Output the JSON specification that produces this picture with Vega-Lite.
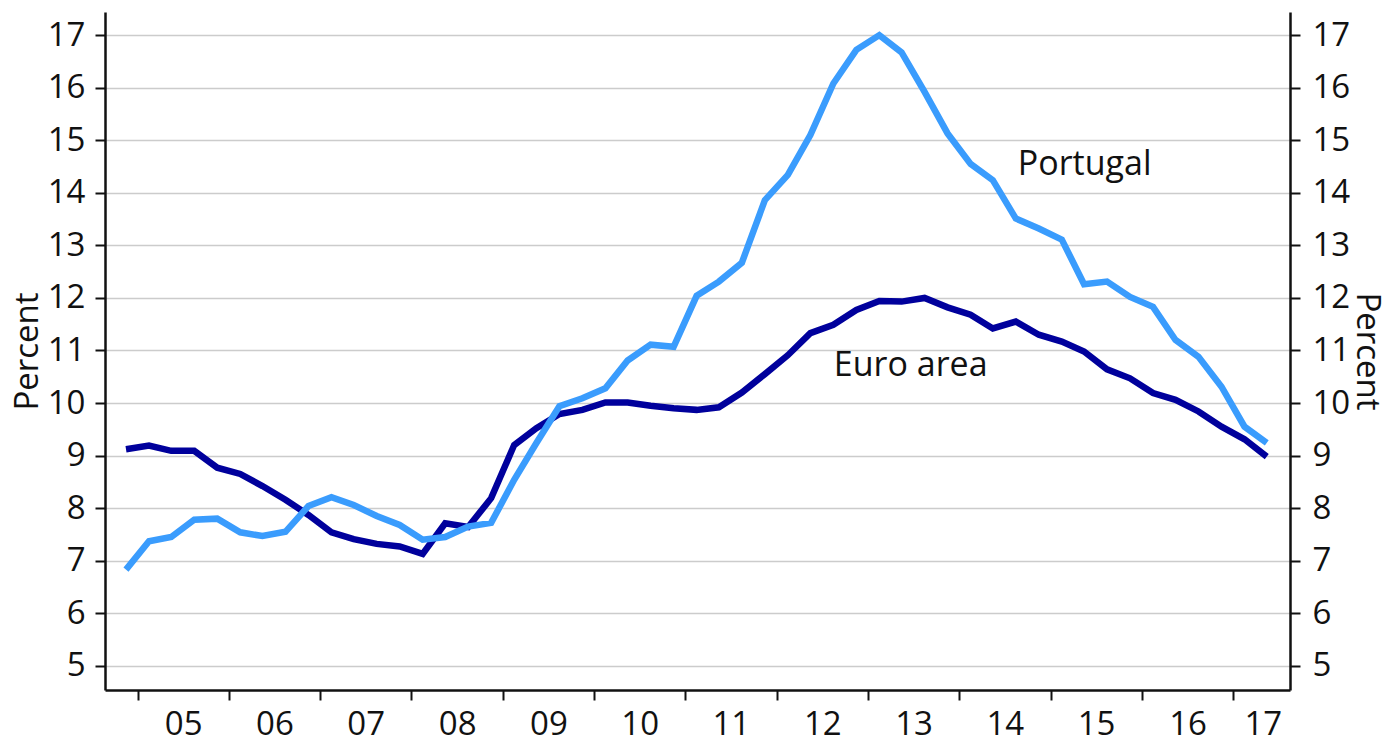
{
  "$schema": "https://vega.github.io/schema/vega-lite/v6.json",
  "width": 1185,
  "height": 678,
  "autosize": {"type": "none"},
  "padding": {"left": 105, "top": 12, "right": 97, "bottom": 54},
  "background": "white",
  "config": {
    "view": {"stroke": null},
    "font": "Open Sans",
    "axis": {"labelFont": "Open Sans", "titleFont": "Open Sans", "labelColor": "#111", "titleColor": "#111"}
  },
  "datasets": {
    "rates": [
      {"date": "2004-11-15", "Portugal": 6.83, "Euro area": 9.12},
      {"date": "2005-02-15", "Portugal": 7.37, "Euro area": 9.19},
      {"date": "2005-05-15", "Portugal": 7.45, "Euro area": 9.09},
      {"date": "2005-08-15", "Portugal": 7.78, "Euro area": 9.09},
      {"date": "2005-11-15", "Portugal": 7.80, "Euro area": 8.77},
      {"date": "2006-02-15", "Portugal": 7.54, "Euro area": 8.65},
      {"date": "2006-05-15", "Portugal": 7.47, "Euro area": 8.42},
      {"date": "2006-08-15", "Portugal": 7.55, "Euro area": 8.16},
      {"date": "2006-11-15", "Portugal": 8.04, "Euro area": 7.87},
      {"date": "2007-02-15", "Portugal": 8.21, "Euro area": 7.54},
      {"date": "2007-05-15", "Portugal": 8.06, "Euro area": 7.41},
      {"date": "2007-08-15", "Portugal": 7.85, "Euro area": 7.32},
      {"date": "2007-11-15", "Portugal": 7.68, "Euro area": 7.27},
      {"date": "2008-02-15", "Portugal": 7.40, "Euro area": 7.13},
      {"date": "2008-05-15", "Portugal": 7.45, "Euro area": 7.71},
      {"date": "2008-08-15", "Portugal": 7.65, "Euro area": 7.64},
      {"date": "2008-11-15", "Portugal": 7.72, "Euro area": 8.19},
      {"date": "2009-02-15", "Portugal": 8.54, "Euro area": 9.20},
      {"date": "2009-05-15", "Portugal": 9.24, "Euro area": 9.52},
      {"date": "2009-08-15", "Portugal": 9.94, "Euro area": 9.79},
      {"date": "2009-11-15", "Portugal": 10.09, "Euro area": 9.87},
      {"date": "2010-02-15", "Portugal": 10.28, "Euro area": 10.01},
      {"date": "2010-05-15", "Portugal": 10.81, "Euro area": 10.01},
      {"date": "2010-08-15", "Portugal": 11.11, "Euro area": 9.95},
      {"date": "2010-11-15", "Portugal": 11.07, "Euro area": 9.90},
      {"date": "2011-02-15", "Portugal": 12.04, "Euro area": 9.87},
      {"date": "2011-05-15", "Portugal": 12.31, "Euro area": 9.92},
      {"date": "2011-08-15", "Portugal": 12.67, "Euro area": 10.20},
      {"date": "2011-11-15", "Portugal": 13.86, "Euro area": 10.55},
      {"date": "2012-02-15", "Portugal": 14.34, "Euro area": 10.91},
      {"date": "2012-05-15", "Portugal": 15.10, "Euro area": 11.33},
      {"date": "2012-08-15", "Portugal": 16.08, "Euro area": 11.49},
      {"date": "2012-11-15", "Portugal": 16.72, "Euro area": 11.77},
      {"date": "2013-02-15", "Portugal": 17.00, "Euro area": 11.94},
      {"date": "2013-05-15", "Portugal": 16.67, "Euro area": 11.93},
      {"date": "2013-08-15", "Portugal": 15.92, "Euro area": 12.00},
      {"date": "2013-11-15", "Portugal": 15.13, "Euro area": 11.82},
      {"date": "2014-02-15", "Portugal": 14.55, "Euro area": 11.68},
      {"date": "2014-05-15", "Portugal": 14.24, "Euro area": 11.42},
      {"date": "2014-08-15", "Portugal": 13.51, "Euro area": 11.55},
      {"date": "2014-11-15", "Portugal": 13.32, "Euro area": 11.30},
      {"date": "2015-02-15", "Portugal": 13.11, "Euro area": 11.17},
      {"date": "2015-05-15", "Portugal": 12.26, "Euro area": 10.98},
      {"date": "2015-08-15", "Portugal": 12.31, "Euro area": 10.64},
      {"date": "2015-11-15", "Portugal": 12.02, "Euro area": 10.47},
      {"date": "2016-02-15", "Portugal": 11.83, "Euro area": 10.19},
      {"date": "2016-05-15", "Portugal": 11.20, "Euro area": 10.06},
      {"date": "2016-08-15", "Portugal": 10.88, "Euro area": 9.84},
      {"date": "2016-11-15", "Portugal": 10.31, "Euro area": 9.55},
      {"date": "2017-02-15", "Portugal": 9.55, "Euro area": 9.31},
      {"date": "2017-05-15", "Portugal": 9.24, "Euro area": 8.98}
    ],
    "labels": [
      {"date": "2014-08-23", "value": 14.34, "text": "Portugal"},
      {"date": "2012-08-17", "value": 10.52, "text": "Euro area"}
    ]
  },
  "encoding": {
    "x": {
      "field": "date",
      "type": "temporal",
      "scale": {"domain": ["2004-08-23", "2017-08-16"]},
      "axis": {
        "title": null,
        "grid": false,
        "domainColor": "#111",
        "domainWidth": 2.5,
        "tickColor": "#111",
        "tickWidth": 2,
        "tickSize": 10,
        "labelFontSize": 33,
        "labelPadding": 8,
        "labelOverlap": false,
        "labelFlush": false,
        "labelBound": false,
        "values": [
          {"year": 2005, "month": 1, "date": 1},
          {"year": 2006, "month": 1, "date": 1},
          {"year": 2007, "month": 1, "date": 1},
          {"year": 2008, "month": 1, "date": 1},
          {"year": 2009, "month": 1, "date": 1},
          {"year": 2010, "month": 1, "date": 1},
          {"year": 2011, "month": 1, "date": 1},
          {"year": 2012, "month": 1, "date": 1},
          {"year": 2013, "month": 1, "date": 1},
          {"year": 2014, "month": 1, "date": 1},
          {"year": 2015, "month": 1, "date": 1},
          {"year": 2016, "month": 1, "date": 1},
          {"year": 2017, "month": 1, "date": 1},
          {"year": 2005, "month": 7, "date": 2},
          {"year": 2006, "month": 7, "date": 2},
          {"year": 2007, "month": 7, "date": 2},
          {"year": 2008, "month": 7, "date": 2},
          {"year": 2009, "month": 7, "date": 2},
          {"year": 2010, "month": 7, "date": 2},
          {"year": 2011, "month": 7, "date": 2},
          {"year": 2012, "month": 7, "date": 2},
          {"year": 2013, "month": 7, "date": 2},
          {"year": 2014, "month": 7, "date": 2},
          {"year": 2015, "month": 7, "date": 2},
          {"year": 2016, "month": 7, "date": 2},
          {"year": 2017, "month": 4, "date": 29}
        ],
        "labelExpr": "month(datum.value) == 0 && date(datum.value) == 1 ? '' : timeFormat(datum.value, '%y')",
        "tickOpacity": {"condition": {"test": "month(datum.value) == 0 && date(datum.value) == 1", "value": 1}, "value": 0}
      }
    }
  },
  "layer": [
    {
      "data": {"name": "rates"},
      "transform": [{"fold": ["Euro area", "Portugal"], "as": ["series", "value"]}],
      "mark": {"type": "line", "strokeWidth": 6.5, "strokeJoin": "miter", "strokeCap": "butt"},
      "encoding": {
        "y": {
          "field": "value",
          "type": "quantitative",
          "scale": {"domain": [4.54, 17.44], "nice": false, "zero": false},
          "axis": {
            "orient": "left",
            "title": "Percent",
            "titleFontSize": 33,
            "titleFontWeight": "normal",
            "titlePadding": 3,
            "values": [5, 6, 7, 8, 9, 10, 11, 12, 13, 14, 15, 16, 17],
            "grid": true,
            "gridColor": "#cccccc",
            "gridWidth": 1.3,
            "domainColor": "#111",
            "domainWidth": 2.5,
            "tickColor": "#111",
            "tickWidth": 2,
            "tickSize": 10,
            "labelFontSize": 33,
            "labelPadding": 10
          }
        },
        "color": {
          "field": "series",
          "type": "nominal",
          "scale": {"domain": ["Euro area", "Portugal"], "range": ["#00009c", "#3a9cfd"]},
          "legend": null
        },
        "order": {"field": "date", "type": "temporal"}
      }
    },
    {
      "data": {"name": "labels"},
      "mark": {"type": "text", "align": "left", "baseline": "alphabetic", "fontSize": 34, "font": "Open Sans", "color": "#111"},
      "encoding": {
        "y": {
          "field": "value",
          "type": "quantitative",
          "scale": {"domain": [4.54, 17.44], "nice": false, "zero": false},
          "axis": {
            "orient": "right",
            "title": "Percent",
            "titleFontSize": 33,
            "titleFontWeight": "normal",
            "titlePadding": 0,
            "values": [5, 6, 7, 8, 9, 10, 11, 12, 13, 14, 15, 16, 17],
            "grid": false,
            "domainColor": "#111",
            "domainWidth": 2.5,
            "tickColor": "#111",
            "tickWidth": 2,
            "tickSize": 10,
            "labelFontSize": 33,
            "labelPadding": 12
          }
        },
        "text": {"field": "text", "type": "nominal"}
      }
    }
  ],
  "resolve": {"axis": {"y": "independent"}}
}
